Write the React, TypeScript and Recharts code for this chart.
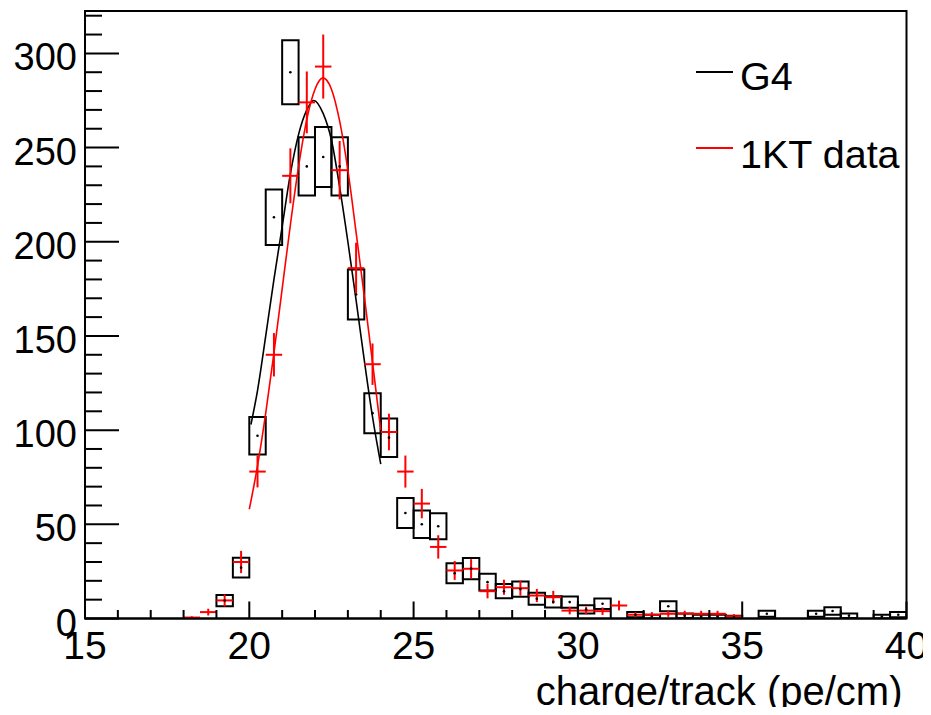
import {
  ComposedChart,
  XAxis,
  YAxis,
  Line,
  Scatter,
  ErrorBar,
  ReferenceArea,
  Legend,
} from 'recharts'

const FONT = '"Liberation Sans", Arial, Helvetica, sans-serif'

// G4 simulation: bin centres, contents and error (box half-height)
const g4Centers = [
  19.25, 19.75, 20.25, 20.75, 21.25, 21.75, 22.25, 22.75, 23.25, 23.75, 24.25, 24.75,
  25.25, 25.75, 26.25, 26.75, 27.25, 27.75, 28.25, 28.75, 29.25, 29.75, 30.25, 30.75,
  31.75, 32.25, 32.75, 33.25, 33.75, 34.25, 34.75, 35.75, 37.25, 37.75, 38.25, 39.25, 39.75,
]
const g4Counts = [
  9.5, 27, 97, 213, 290, 240, 245, 240, 172, 109, 96, 56,
  50, 49, 24, 26.5, 19.3, 14.5, 15.6, 10.5, 8.8, 8.7, 4.8, 7.8,
  2, 1, 6.5, 1.5, 1, 1, 0.6, 2.5, 2.5, 4, 1.5, 1, 2,
]
const g4Errors = [
  3, 5.3, 10, 14.7, 17, 15.5, 15.9, 15.5, 13.3, 10.6, 10.2, 8,
  7.3, 6.9, 5.3, 5.6, 4.5, 3.8, 4, 3.2, 3, 3, 2.2, 2.8,
  1.4, 1, 2.6, 1.2, 1, 1, 0.8, 1.6, 1.6, 2, 1.2, 1, 1.4,
]

// 1KT data: bin centres, contents and vertical errors
const dataCenters = [
  18.25, 18.75, 19.25, 19.75, 20.25, 20.75, 21.25, 21.75, 22.25, 22.75, 23.25, 23.75,
  24.25, 24.75, 25.25, 25.75, 26.25, 26.75, 27.25, 27.75, 28.25, 28.75, 29.25, 29.75,
  30.25, 30.75, 31.25, 31.75, 32.25, 32.75, 33.25, 33.75, 34.25, 34.75,
]
const dataCounts = [
  0.5, 3.4, 9.6, 30, 78, 140, 235, 274, 293, 238, 186, 135,
  99, 78, 61, 38, 25.5, 26.4, 14.5, 16.6, 16.1, 12.2, 11.3, 4.2,
  4.2, 3.9, 6.9, 2, 2, 2.5, 2.5, 2.5, 2.5, 1.2,
]
const dataErrors = [
  0.7, 1.8, 3.2, 5.9, 8.4, 11.5, 14.6, 16.4, 17, 15.5, 13.5, 11,
  9.7, 8.5, 7.8, 6.2, 5, 5.1, 3.8, 4, 4, 3.5, 3.4, 2,
  2, 2, 2.6, 1.4, 1.4, 1.6, 1.6, 1.6, 1.6, 1.1,
]
const binHalfWidth = 0.25

// gaussian fit curves
const g4FitX = [20.05, 20.25, 20.5, 20.75, 21, 21.25, 21.5, 21.75, 21.96, 22.25, 22.5, 22.75, 23, 23.25, 23.5, 23.75, 24]
const g4FitY = [103, 121, 150, 180, 208, 236, 257, 270, 275, 268, 254, 229, 200, 169, 137, 107, 82]
const dataFitX = [20, 20.25, 20.5, 20.75, 21, 21.25, 21.5, 21.75, 22, 22.24, 22.5, 22.75, 23, 23.25, 23.5, 23.75, 24]
const dataFitY = [58, 81, 109, 141, 175, 209, 240, 265, 281, 287, 281, 264, 238, 205, 171, 136, 100]

const xTicks = [15, 16, 17, 18, 19, 20, 21, 22, 23, 24, 25, 26, 27, 28, 29, 30, 31, 32, 33, 34, 35, 36, 37, 38, 39, 40]
const xMajor = [15, 20, 25, 30, 35, 40]
const yTicks = [0, 10, 20, 30, 40, 50, 60, 70, 80, 90, 100, 110, 120, 130, 140, 150, 160, 170, 180, 190, 200, 210, 220, 230, 240, 250, 260, 270, 280, 290, 300, 310, 320]
const yMajor = [0, 50, 100, 150, 200, 250, 300]

const legendItems = [
  { name: 'G4', color: '#000000' },
  { name: '1KT data', color: '#ff0000' },
]

const g4Points = g4Centers.map((x, i) => ({ x, y: g4Counts[i], err: g4Errors[i] }))
const dataPoints = dataCenters.map((x, i) => ({ x, y: dataCounts[i], ey: dataErrors[i], ex: binHalfWidth }))
const g4Fit = g4FitX.map((x, i) => ({ x, y: g4FitY[i] }))
const dataFit = dataFitX.map((x, i) => ({ x, y: dataFitY[i] }))

function XTick({ x, y, payload }: any) {
  const major = xMajor.includes(payload.value)
  return (
    <g>
      <line x1={x} x2={x} y1={y} y2={y - (major ? 17 : 8.5)} stroke="#000" strokeWidth={2} />
      {major && (
        <text x={x} y={y + 40} textAnchor="middle" fontSize={39} fontFamily={FONT} fill="#000">
          {payload.value}
        </text>
      )}
    </g>
  )
}

function YTick({ x, y, payload }: any) {
  const major = yMajor.includes(payload.value)
  return (
    <g>
      <line x1={x} x2={x + (major ? 34 : 17)} y1={y} y2={y} stroke="#000" strokeWidth={2} />
      {major && (
        <text x={x - 8} y={y + 17} textAnchor="end" fontSize={38} fontFamily={FONT} fill="#000">
          {payload.value}
        </text>
      )}
    </g>
  )
}

function XTitle(props: any) {
  const vb = props.viewBox || { x: 85, y: 618.5, width: 821.5, height: 96 }
  return (
    <text
      x={vb.x + vb.width - 4}
      y={vb.y + 86}
      textAnchor="end"
      fontSize={40}
      fontFamily={FONT}
      fill="#000"
    >
      charge/track (pe/cm)
    </text>
  )
}

function LegendBox() {
  return (
    <svg width={235} height={150}>
      {legendItems.map((item, i) => (
        <g key={item.name}>
          <line x1={6} x2={43} y1={32 + i * 76} y2={32 + i * 76} stroke={item.color} strokeWidth={2} />
          <text x={50} y={50 + i * 78} fontSize={39.5} fontFamily={FONT} fill="#000">
            {item.name}
          </text>
        </g>
      ))}
    </svg>
  )
}

export default function App() {
  return (
    <div style={{ margin: -8, width: 931, height: 715, background: '#fff', overflow: 'hidden' }}>
      <ComposedChart width={931} height={715} margin={{ top: 11, right: 24.5, bottom: 0.5, left: 0 }}>
        <XAxis
          type="number"
          dataKey="x"
          domain={[15, 40]}
          allowDataOverflow
          ticks={xTicks}
          interval={0}
          tickSize={0}
          tickMargin={0}
          tickLine={false}
          tick={(p: any) => <XTick {...p} />}
          axisLine={{ stroke: '#000', strokeWidth: 2 }}
          height={96}
          label={{ content: (p: any) => <XTitle {...p} /> }}
        />
        <YAxis
          type="number"
          dataKey="y"
          domain={[0, 322.5]}
          allowDataOverflow
          ticks={yTicks}
          interval={0}
          tickSize={0}
          tickMargin={0}
          tickLine={false}
          tick={(p: any) => <YTick {...p} />}
          axisLine={{ stroke: '#000', strokeWidth: 2 }}
          width={85}
        />
        {/* frame */}
        <ReferenceArea x1={15} x2={40} y1={0} y2={322.5} fill="none" stroke="#000" strokeWidth={2} />
        {g4Points.map((p) => (
          <ReferenceArea
            key={p.x}
            x1={p.x - binHalfWidth}
            x2={p.x + binHalfWidth}
            y1={Math.max(0, p.y - p.err)}
            y2={p.y + p.err}
            fill="none"
            stroke="#000"
            strokeWidth={2}
            ifOverflow="hidden"
          />
        ))}
        <Line
          data={g4Fit}
          dataKey="y"
          type="monotone"
          stroke="#000"
          strokeWidth={1.6}
          dot={false}
          isAnimationActive={false}
        />
        <Line
          data={dataFit}
          dataKey="y"
          type="monotone"
          stroke="#ff0000"
          strokeWidth={1.6}
          dot={false}
          isAnimationActive={false}
        />
        <Scatter
          data={g4Points}
          isAnimationActive={false}
          shape={(p: any) => <circle cx={p.cx} cy={p.cy} r={1.3} fill="#000" />}
        />
        <Scatter data={dataPoints} isAnimationActive={false} shape={() => <g />}>
          <ErrorBar dataKey="ey" direction="y" width={0} stroke="#ff0000" strokeWidth={2} />
          <ErrorBar dataKey="ex" direction="x" width={0} stroke="#ff0000" strokeWidth={2} />
        </Scatter>
        <Legend
          layout="horizontal"
          verticalAlign="middle"
          align="center"
          content={() => <LegendBox />}
          wrapperStyle={{ left: 690, top: 40, width: 235, height: 150 }}
        />
      </ComposedChart>
    </div>
  )
}
